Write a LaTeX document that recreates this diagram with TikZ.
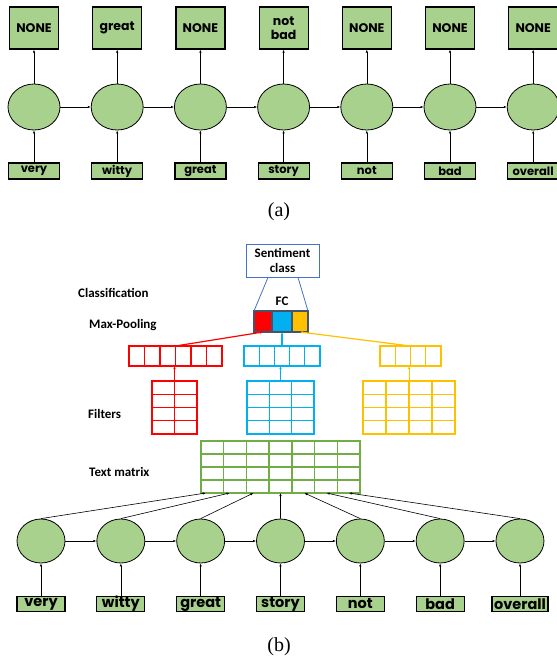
\documentclass[tikz,border=0pt]{standalone}
\usepackage{fontspec}
\setmainfont{Liberation Serif}
\newfontfamily\wordfont{Poppins}
\newfontfamily\labfont{Carlito}
\usetikzlibrary{arrows.meta,calc,shapes.geometric}
\definecolor{leaf}{HTML}{A9D18E}
\definecolor{grass}{HTML}{70AD47}
\definecolor{redc}{HTML}{FF0000}
\definecolor{bluec}{HTML}{00B0F0}
\definecolor{yelc}{HTML}{FFC000}
\definecolor{slate}{HTML}{44546A}
\definecolor{fcblue}{HTML}{4472C4}
% inner lines of a cell grid: node, columns, rows, colour
\newcommand{\cellgrid}[4]{%
  \pgfmathtruncatemacro\gcols{#2-1}\pgfmathtruncatemacro\grows{#3-1}
  \foreach \cc in {1,...,\gcols}
    \draw[#4, line width=1.3pt] ($(#1.north west)!\cc/#2!(#1.north east)$)
      -- ($(#1.south west)!\cc/#2!(#1.south east)$);
  \foreach \rr in {1,...,\grows}
    \draw[#4, line width=1.3pt] ($(#1.north west)!\rr/#3!(#1.south west)$)
      -- ($(#1.north east)!\rr/#3!(#1.south east)$);
}
\begin{document}
\begin{tikzpicture}[x=1pt, y=-1pt,
  arr/.style={-{Latex[length=3pt,width=2.4pt]}, line width=.6pt},
  hid/.style={ellipse, draw=black, fill=leaf, line width=.8pt, inner sep=0pt},
  word/.style={draw=black, fill=leaf, line width=1.2pt, inner xsep=2pt, inner ysep=0pt,
    font=\wordfont\bfseries},
  grid/.style={draw=#1, line width=1.3pt, inner sep=0pt, outer sep=0pt},
  pool/.style={draw=slate, line width=1.2pt, inner sep=0pt, outer sep=0pt, minimum height=21},
  lab/.style={anchor=west, inner sep=0pt, font=\labfont\bfseries\fontsize{13}{15}\selectfont}]
  \useasboundingbox (0,0) rectangle (557,657);
  % (a) tagging with a recurrent network
  \foreach \w/\o [count=\i] in {very/NONE, witty/great, great/NONE, story/{not\\bad},
      not/NONE, bad/NONE, overall/NONE} {
    \node[hid, minimum width=52, minimum height=46] (ah\i) at ({34+83.2*(\i-1)},107) {};
    \node[word, minimum width=51, minimum height=16, font=\wordfont\bfseries\fontsize{11.5}{12}\selectfont]
      (ain\i) at ({34+83.2*(\i-1)},171) {\w};
    \node[word, minimum width=49, minimum height=42, align=center,
      font=\wordfont\bfseries\fontsize{12.5}{14}\selectfont] (aout\i) at ({34+83.2*(\i-1)},28) {\o};
    \draw[arr] (ain\i) -- (ah\i);
    \draw[arr] (ah\i) -- (aout\i);
  }
  \foreach \i [evaluate=\i as \j using int(\i+1)] in {1,...,6}
    \draw[arr] (ah\i) -- (ah\j);
  \node[font=\fontsize{20}{22}\selectfont] (capa) at (279,212) {(a)};
  % (b) convolution over the hidden states
  \node[draw=fcblue, line width=.8pt, minimum width=73, minimum height=33, inner sep=0pt,
    align=center, font=\labfont\bfseries\fontsize{13}{14.5}\selectfont] (sent) at (282.5,260.5)
    {Sentiment\\class};
  \node[lab, anchor=center] (fc) at (282,301) {FC};
  \node[lab] (cls) at (78,293) {Classification};
  \node[lab] (mxp) at (89,325) {Max-Pooling};
  \node[lab] (fil) at (88,414) {Filters};
  \node[lab] (txl) at (89,472) {Text matrix};
  \node[pool, fill=redc, minimum width=18] (poolr) at (263,321.5) {};
  \node[pool, fill=bluec, minimum width=20] (poolb) at (282,321.5) {};
  \node[pool, fill=yelc, minimum width=16] (pooly) at (300,321.5) {};
  \draw[fcblue, line width=.8pt] ($(sent.south)+(-14.5,0)$) -- (poolr.north west)
    ($(sent.south)+(15.5,0)$) -- (pooly.north east);
  \node[grid=redc, minimum width=93, minimum height=20] (redvec) at (175.5,356) {};
  \node[grid=bluec, minimum width=76, minimum height=20] (bluevec) at (282,356) {};
  \node[grid=yelc, minimum width=61, minimum height=20] (yelvec) at (410.5,356) {};
  \cellgrid{redvec}{6}{1}{redc}
  \cellgrid{bluevec}{5}{1}{bluec}
  \cellgrid{yelvec}{4}{1}{yelc}
  \node[grid=redc, minimum width=45, minimum height=53] (redfil) at (174.5,407.5) {};
  \node[grid=bluec, minimum width=67, minimum height=53] (bluefil) at (280.5,407.5) {};
  \node[grid=yelc, minimum width=92, minimum height=53] (yelfil) at (409,407.5) {};
  \cellgrid{redfil}{2}{4}{redc}
  \cellgrid{bluefil}{3}{4}{bluec}
  \cellgrid{yelfil}{4}{4}{yelc}
  \node[grid=grass, minimum width=159, minimum height=52] (txt) at (280.5,467) {};
  \cellgrid{txt}{7}{4}{grass}
  \draw[arr, redc, line width=1.2pt] (redvec.north) -- (poolr.south);
  \draw[arr, bluec, line width=1.2pt] (bluevec.north) -- (poolb.south);
  \draw[arr, yelc, line width=1.2pt] (yelvec.north) -- (pooly.south);
  \draw[arr, redc] (redfil.north) -- (redfil.north |- redvec.south);
  \draw[arr, bluec] (bluefil.north) -- (bluefil.north |- bluevec.south);
  \draw[arr, yelc] (yelfil.north) -- (yelfil.north |- yelvec.south);
  \foreach \f [count=\i] in {.03,.18,.33,.5,.65,.79,.93}
    \coordinate (tm\i) at ($(txt.south west)!\f!(txt.south east)$);
  \foreach \w [count=\i] in {very, witty, great, story, not, bad, overall} {
    \node[hid, minimum width=48, minimum height=44] (bh\i) at ({41+79.83*(\i-1)},541) {};
    \node[word, minimum width=48, minimum height=15, font=\wordfont\bfseries\fontsize{14.5}{15}\selectfont]
      (bin\i) at ({41+79.83*(\i-1)},604) {\w};
    \draw[arr] (bin\i) -- (bh\i);
    \draw[arr] (bh\i.north) -- (tm\i);
  }
  \foreach \i [evaluate=\i as \j using int(\i+1)] in {1,...,6}
    \draw[arr] (bh\i) -- (bh\j);
  \node[font=\fontsize{20}{22}\selectfont] (capb) at (279,647) {(b)};
\end{tikzpicture}
\end{document}
